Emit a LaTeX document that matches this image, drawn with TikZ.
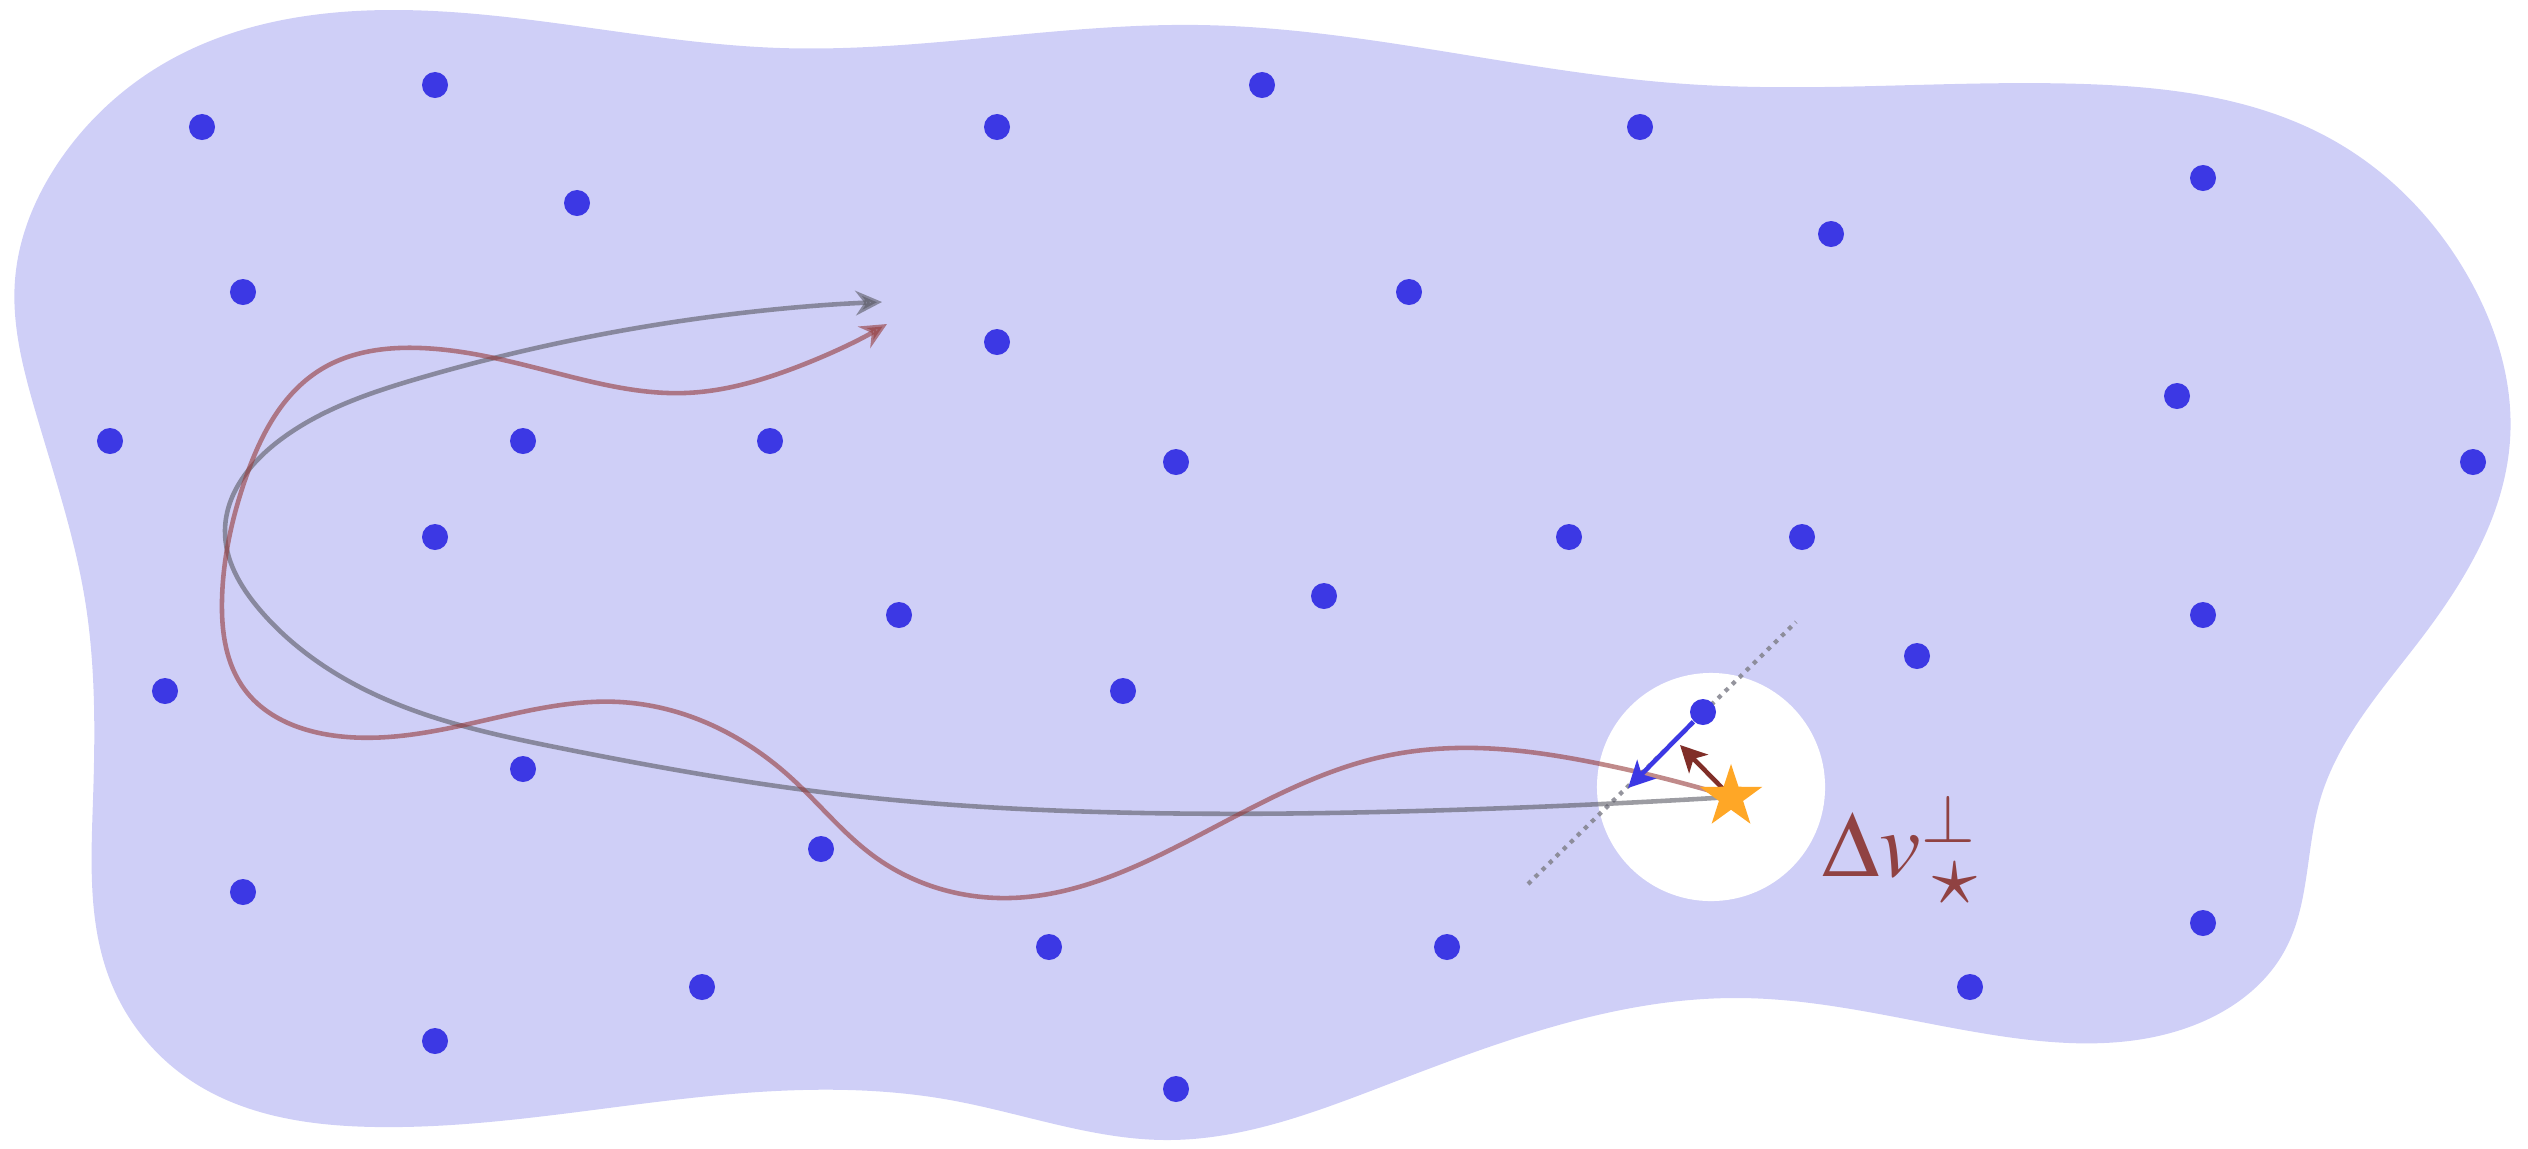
\documentclass[tikz,border=0pt]{standalone}
\usepackage{mathptmx}
\usepackage{graphicx}
\usetikzlibrary{arrows.meta, shapes.geometric, hobby}
\definecolor{blobLilac}{RGB}{207, 207, 247}
\definecolor{dotBlue}{RGB}{60, 56, 228}
\definecolor{kickRed}{RGB}{128, 46, 40}
\definecolor{labelRed}{RGB}{144, 66, 66}
\definecolor{trackRed}{RGB}{150, 60, 60}
\definecolor{trackGray}{RGB}{90, 90, 100}
\definecolor{starOrange}{RGB}{255, 167, 38}
\definecolor{perpGray}{RGB}{130, 130, 140}

\begin{document}
\begin{tikzpicture}[
      x=0.01cm, y=-0.01cm,
      fielddot/.style={circle, fill=dotBlue, inner sep=0pt, minimum size=0.26cm},
      starmark/.style={star, star points=5, star point ratio=2.6, fill=starOrange,
        inner sep=0pt, minimum size=0.66cm},
      track/.style={line width=1.3pt, opacity=0.6,
        -{Stealth[length=7.5pt, width=7pt, inset=2.5pt]}},
      kick/.style={line width=1.3pt, -{Stealth[length=7.5pt, width=7.5pt, inset=2pt]}},
      perpline/.style={perpGray, line width=1.2pt, opacity=0.85,
        dash pattern=on 1.2pt off 1.6pt},
    ]
      \useasboundingbox (0,0) rectangle (2528,1148);

      % background medium
      \fill[blobLilac, use Hobby shortcut, closed=true]
        (395,10) .. (780,48) .. (1198,25) .. (1686,84) .. (2084,84) .. (2331,139)
        .. (2470,280) .. (2510,440) .. (2420,640) .. (2320,800) .. (2285,950)
        .. (2197,1024) .. (2000,1036) .. (1740,998) .. (1381,1087) .. (1166,1140)
        .. (950,1100) .. (700,1097) .. (376,1127) .. (190,1080) .. (110,980)
        .. (93,800) .. (85,600) .. (35,410) .. (15,280) .. (60,160) .. (170,60);

      % field particles
      \foreach \x/\y [count=\i] in {435/85, 202/127, 577/203, 243/292, 110/441,
          523/441, 770/441, 435/537, 1262/85, 997/127, 1640/127, 1409/292, 997/342,
          1176/462, 1569/537, 2203/178, 1831/234, 2177/396, 2473/462, 1802/537,
          165/691, 523/769, 821/849, 243/892, 702/987, 435/1041, 899/615, 1324/596,
          1123/691, 1049/947, 1447/947, 1176/1089, 2203/615, 1917/656, 2203/923,
          1970/987} {
        \node[fielddot] (d\i) at (\x,\y) {};
      }

      \node[circle, fill=white, inner sep=0pt, minimum size=2.28cm] (zone) at (1711,787) {};

      \coordinate (sc) at (1731,797);
      \coordinate (grayTip) at (882,302);
      \coordinate (redTip) at (887,324);
      \coordinate (pullTip) at (1628,788);
      \coordinate (kickTip) at (1680,745);
      \coordinate (perpA) at (1528,884);
      \coordinate (perpB) at (1796,622);

      \draw[perpline] (perpA) -- (perpB);

      % straight-ish and wiggly orbits
      \draw[track, trackGray] (sc) to[curve through={(1450,810) (1100,812) (846,795)
        (560,748) (376,695) (260,610) (225,530) (280,440) (420,378) (674,322)}] (grayTip);
      \draw[track, trackRed] (sc) to[curve through={(1596,763) (1477,748) (1381,757)
        (1166,852) (1010,898) (875,857) (789,776) (620,702) (473,723) (330,735)
        (245,690) (222,600) (245,480) (320,370) (421,348) (560,374) (685,393)
        (789,370)}] (redTip);

      \node[fielddot] (p) at (1703,712) {};
      \draw[kick, dotBlue] (p) -- (pullTip);
      \draw[kick, kickRed] (sc) -- (kickTip);
      \node[starmark] (star) at (sc) {};

      \node[text=labelRed, anchor=base west, inner sep=0pt,
        font=\fontsize{26.5}{30}\selectfont] (dvLabel) at (1822,876)
        {$\Delta v^{\perp}_{\mkern3mu\raisebox{-1.5pt}{\scalebox{1.3}{$\scriptstyle\star$}}}$};
    \end{tikzpicture}
\end{document}
